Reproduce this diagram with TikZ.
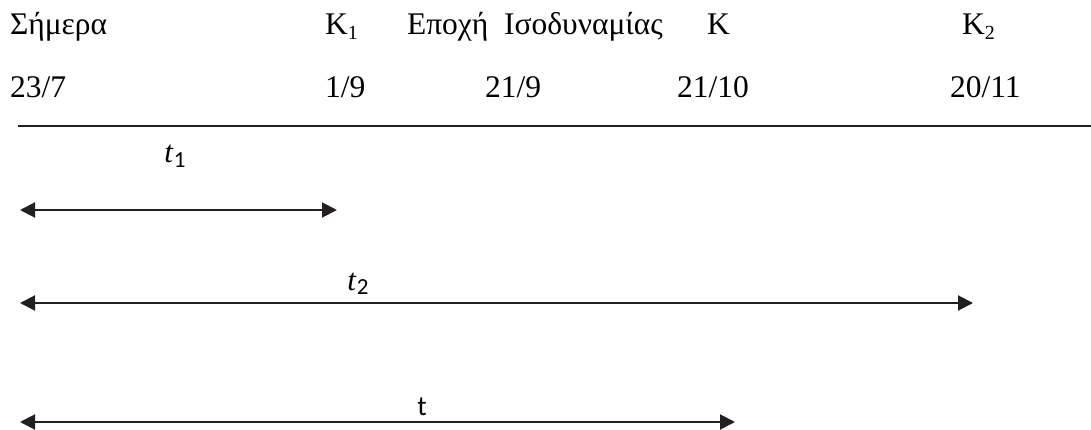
\documentclass[tikz,border=0pt]{standalone}
\usepackage{fontspec}
\setmainfont{Liberation Serif}
\newfontfamily\calfont{Carlito}
\usetikzlibrary{arrows.meta}
\tikzset{
  lbl/.style={anchor=base west, inner sep=0pt, outer sep=0pt, font=\fontsize{31.5}{36}\selectfont},
  tlbl/.style={anchor=base, inner sep=0pt, outer sep=0pt, font=\fontsize{31}{34}\selectfont},
  span/.style={line width=2pt, draw={rgb,255:red,35;green,31;blue,32}, {Triangle[length=15pt,width=15pt]}-{Triangle[length=15pt,width=15pt]}},
  axis/.style={line width=2.2pt, draw={rgb,255:red,35;green,31;blue,32}}
}
\newcommand{\subidx}[1]{\raisebox{-0.14em}{\fontsize{20}{20}\selectfont #1}}
\newcommand{\tsub}[1]{{\itshape t}\kern1pt\raisebox{-0.16em}{\fontsize{23}{23}\selectfont\calfont #1}}
\begin{document}
\begin{tikzpicture}[x=1pt,y=-1pt]
\useasboundingbox (0,0) rectangle (1091,430);
% row 1
\node[lbl] (simera) at (10,35) {Σήμερα};
\node[lbl] (k1) at (325,35) {K\subidx{1}};
\node[lbl] (epoxi) at (407,35) {Εποχή\ \ Ισοδυναμίας};
\node[lbl] (k) at (707,35) {K};
\node[lbl] (k2) at (962,35) {K\subidx{2}};
% row 2
\node[lbl] (d1) at (10,98) {23/7};
\node[lbl] (d2) at (325,98) {1/9};
\node[lbl] (d3) at (485,98) {21/9};
\node[lbl] (d4) at (677,98) {21/10};
\node[lbl] (d5) at (950,98) {20/11};
% axis
\coordinate (axL) at (18,126);
\coordinate (axR) at (1091,126);
\draw[axis] (axL) -- (axR);
% spans
\coordinate (a1L) at (20,210);
\coordinate (a1R) at (337,210);
\draw[span] (a1L) -- (a1R);
\node[tlbl] (t1) at (175,163) {\tsub{1}};
\coordinate (a2L) at (20,303);
\coordinate (a2R) at (973,303);
\draw[span] (a2L) -- (a2R);
\node[tlbl] (t2) at (358,290) {\tsub{2}};
\coordinate (a3L) at (20,422);
\coordinate (a3R) at (735,422);
\draw[span] (a3L) -- (a3R);
\node[tlbl] (t) at (422,415) {\fontsize{28}{30}\selectfont\calfont t};
\end{tikzpicture}
\end{document}
